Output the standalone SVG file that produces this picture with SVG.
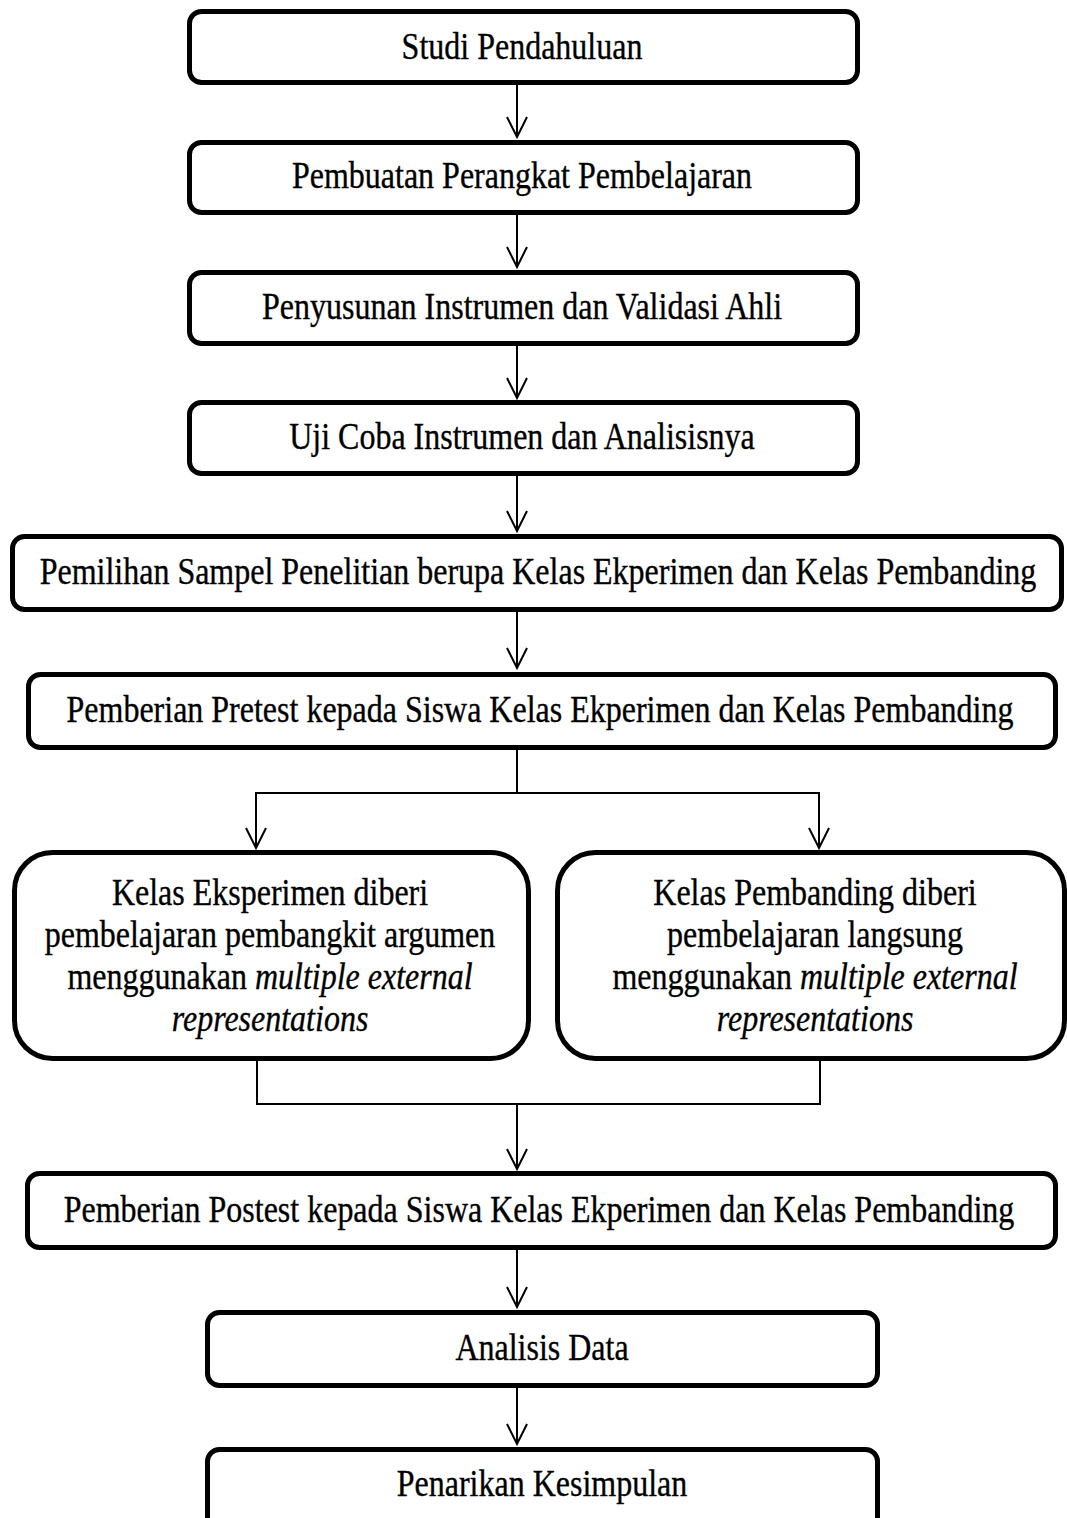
<svg xmlns="http://www.w3.org/2000/svg" width="1067" height="1518" viewBox="0 0 1067 1518">
<defs>
<style>
.box{fill:#fff;stroke:#000;stroke-width:5}
.t{font-size:32px;fill:#000;stroke:#000;stroke-width:0.3;text-anchor:middle}
.i{font-style:italic}
.c{fill:none;stroke:#000;stroke-width:2}
</style>
<marker id="ah" viewBox="0 0 24 24" refX="22" refY="12" markerWidth="24" markerHeight="24" markerUnits="userSpaceOnUse" orient="auto">
<path d="M2,2 L22,12 L2,22" fill="none" stroke="#000" stroke-width="2"/>
</marker>
</defs>
<rect width="1067" height="1518" fill="#fff"/>
<g id="connectors">
<line class="c" x1="517" y1="85" x2="517" y2="137" marker-end="url(#ah)"/>
<line class="c" x1="517" y1="215" x2="517" y2="267" marker-end="url(#ah)"/>
<line class="c" x1="517" y1="346" x2="517" y2="398" marker-end="url(#ah)"/>
<line class="c" x1="517" y1="476" x2="517" y2="531" marker-end="url(#ah)"/>
<line class="c" x1="517" y1="612" x2="517" y2="668" marker-end="url(#ah)"/>
<polyline class="c" points="517,750 517,793"/>
<polyline class="c" points="256,793 820,793"/>
<line class="c" x1="256" y1="792" x2="256" y2="848" marker-end="url(#ah)"/>
<line class="c" x1="819" y1="792" x2="819" y2="848" marker-end="url(#ah)"/>
<polyline class="c" points="257,1061 257,1104 820,1104 820,1061"/>
<line class="c" x1="517" y1="1104" x2="517" y2="1169" marker-end="url(#ah)"/>
<line class="c" x1="517" y1="1250" x2="517" y2="1307" marker-end="url(#ah)"/>
<line class="c" x1="517" y1="1382" x2="517" y2="1444" marker-end="url(#ah)"/>
</g>
<g font-family="'Liberation Serif', 'Times New Roman', serif">
<g id="n1"><rect class="box" x="189.5" y="11.5" width="668" height="71" rx="12"/>
<text class="t" transform="translate(522,59) scale(1,1.16)">Studi Pendahuluan</text></g>
<g id="n2"><rect class="box" x="189.5" y="142.5" width="668" height="70" rx="12"/>
<text class="t" transform="translate(522,188) scale(1,1.16)">Pembuatan Perangkat Pembelajaran</text></g>
<g id="n3"><rect class="box" x="189.5" y="272.5" width="668" height="71" rx="12"/>
<text class="t" transform="translate(522,319) scale(1,1.16)">Penyusunan Instrumen dan Validasi Ahli</text></g>
<g id="n4"><rect class="box" x="189.5" y="402.5" width="668" height="71" rx="12"/>
<text class="t" transform="translate(522,449) scale(1,1.16)">Uji Coba Instrumen dan Analisisnya</text></g>
<g id="n5"><rect class="box" x="12.5" y="536.5" width="1049" height="73" rx="12"/>
<text class="t" transform="translate(538,584) scale(1,1.16)">Pemilihan Sampel Penelitian berupa Kelas Ekperimen dan Kelas Pembanding</text></g>
<g id="n6"><rect class="box" x="28.5" y="674.5" width="1027" height="73" rx="12"/>
<text class="t" transform="translate(540,722) scale(1,1.16)">Pemberian Pretest kepada Siswa Kelas Ekperimen dan Kelas Pembanding</text></g>
<g id="n7"><rect class="box" x="14.5" y="852.5" width="514" height="206" rx="38"/>
<text class="t" transform="translate(270,905) scale(1,1.16)">Kelas Eksperimen diberi</text>
<text class="t" transform="translate(270,947) scale(1,1.16)">pembelajaran pembangkit argumen</text>
<text class="t" transform="translate(270,989) scale(1,1.16)">menggunakan <tspan class="i">multiple external</tspan></text>
<text class="t i" transform="translate(270,1031) scale(1,1.16)">representations</text></g>
<g id="n8"><rect class="box" x="557.5" y="852.5" width="507" height="206" rx="38"/>
<text class="t" transform="translate(815,905) scale(1,1.16)">Kelas Pembanding diberi</text>
<text class="t" transform="translate(815,947) scale(1,1.16)">pembelajaran langsung</text>
<text class="t" transform="translate(815,989) scale(1,1.16)">menggunakan <tspan class="i">multiple external</tspan></text>
<text class="t i" transform="translate(815,1031) scale(1,1.16)">representations</text></g>
<g id="n9"><rect class="box" x="27.5" y="1173.5" width="1028" height="74" rx="12"/>
<text class="t" transform="translate(539,1222) scale(1,1.16)">Pemberian Postest kepada Siswa Kelas Ekperimen dan Kelas Pembanding</text></g>
<g id="n10"><rect class="box" x="207.5" y="1312.5" width="670" height="73" rx="12"/>
<text class="t" transform="translate(542,1360) scale(1,1.16)">Analisis Data</text></g>
<g id="n11"><rect class="box" x="207.5" y="1449.5" width="670" height="90" rx="12"/>
<text class="t" transform="translate(542,1496) scale(1,1.16)">Penarikan Kesimpulan</text></g>
</g>
</svg>
